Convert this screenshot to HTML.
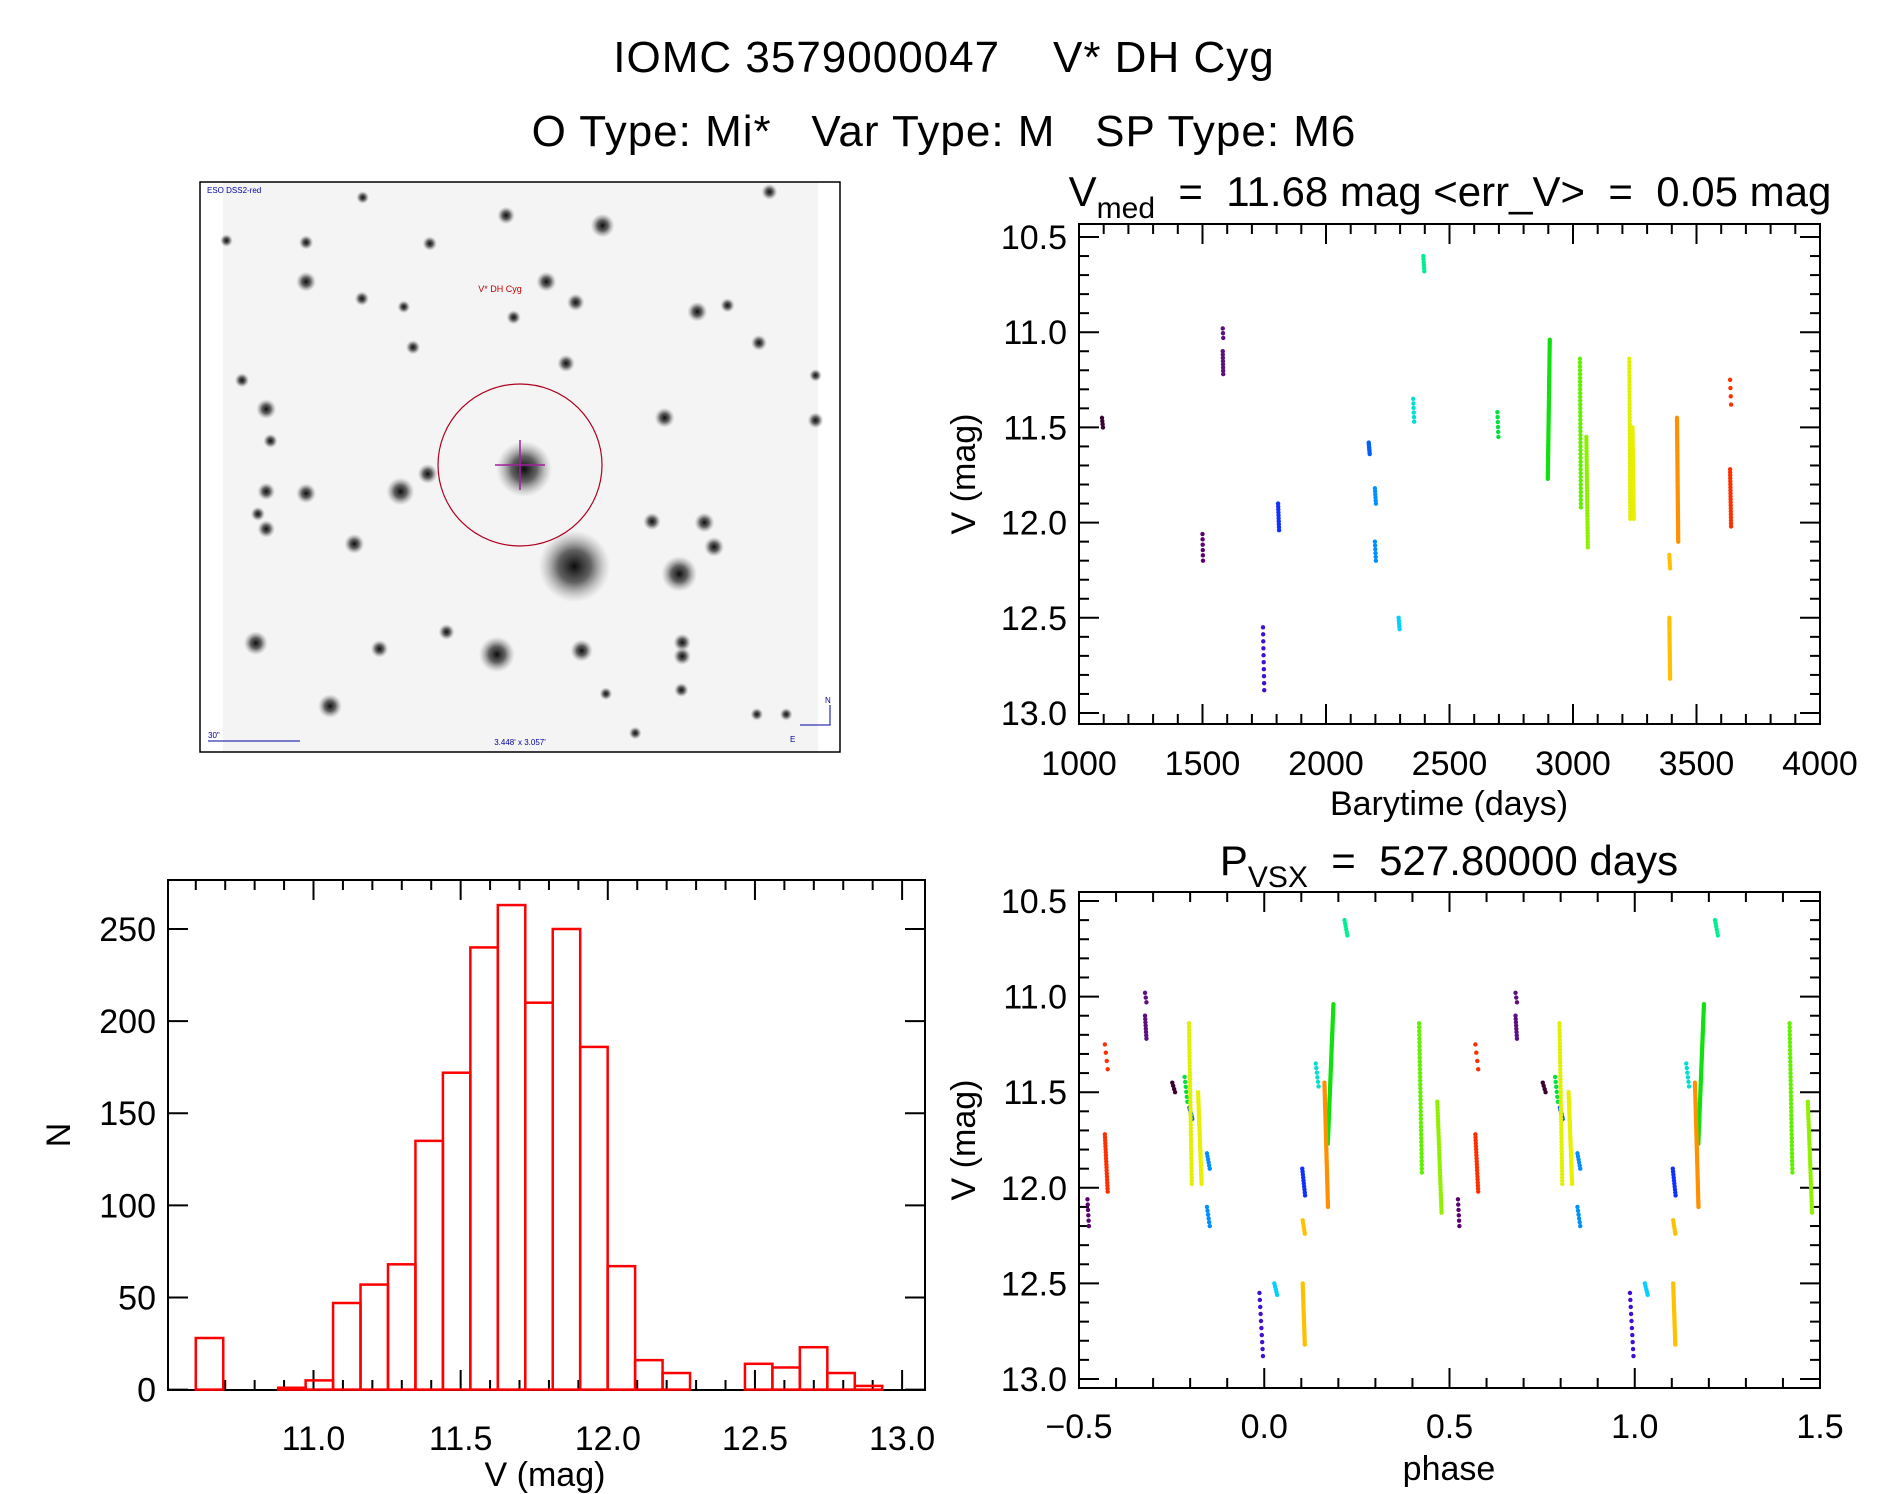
<!DOCTYPE html>
<html><head><meta charset="utf-8"><style>
html,body{margin:0;padding:0;background:#fff;}
svg{display:block;font-family:"Liberation Sans",sans-serif;}
text{white-space:pre;}
</style></head><body>
<svg id="c" width="1889" height="1494" viewBox="0 0 1889 1494" xmlns="http://www.w3.org/2000/svg">
<defs>
<radialGradient id="sg"><stop offset="0" stop-color="#000" stop-opacity="0.95"/><stop offset="0.45" stop-color="#222" stop-opacity="0.7"/><stop offset="1" stop-color="#888" stop-opacity="0"/></radialGradient>
</defs>
<text x="944" y="72" font-size="44" text-anchor="middle" letter-spacing="1" xml:space="preserve">IOMC 3579000047    V* DH Cyg</text>
<text x="944" y="146" font-size="44" text-anchor="middle" letter-spacing="1" xml:space="preserve">O Type: Mi*   Var Type: M   SP Type: M6</text>
<g id="img"></g>
<g id="lc"></g>
<g id="ph"></g>
<g id="hist"></g>
</svg>
<script>
// ---- data ----
const histBinStart = 10.60;
const histBinWidth = 0.0933;
const histCounts = [28,0,0,1,5,47,57,68,135,172,240,263,210,250,186,67,16,9,0,0,14,12,23,9,2];
const histXTicks = ["11.0","11.5","12.0","12.5","13.0"];
const histYTicks = ["0","50","100","150","200","250"];

const segT0 =   [1093,1500,1582,1582,1745,1806,2173,2198,2198,2294,2353,2394,2694,2898,3028,3054,3228,3241,3390,3390,3421,3636,3636];
const segT1 =   [1097,1502,1584,1584,1750,1810,2177,2202,2202,2298,2357,2398,2698,2906,3032,3060,3232,3246,3393,3393,3426,3640,3640];
const segM0 =   [11.45,12.06,10.98,11.10,12.55,11.90,11.58,11.82,12.10,12.50,11.35,10.60,11.42,11.77,11.14,11.55,11.14,11.50,12.17,12.50,11.45,11.25,11.72];
const segM1 =   [11.50,12.20,11.03,11.22,12.88,12.04,11.64,11.90,12.20,12.56,11.47,10.68,11.55,11.04,11.92,12.13,11.98,11.98,12.24,12.82,12.10,11.38,12.02];
const segN =    [4,6,3,8,10,10,8,6,6,5,6,6,6,70,40,40,50,40,6,30,60,4,20];
const segColor = ["#3a0030","#5a0070","#5a1080","#5a1080","#4010d0","#1030ff","#0060ff","#0090ff","#0090ff","#00d0ff","#00e0d0","#00f090","#00e040","#10e010","#60f000","#90f000","#e0f000","#e8f000","#ffc000","#ffc000","#ff9000","#ff3000","#ff3000"];
const period = 527.8;
const phaseRef = 1100, phaseOff = 0.765;
const lcXTicks = ["1000","1500","2000","2500","3000","3500","4000"];
const magTicks = ["10.5","11.0","11.5","12.0","12.5","13.0"];
const phTicks = ["\u22120.5","0.0","0.5","1.0","1.5"];

// sky image stars (zoom-space coords), radius
const starX = [905,785,1155,720,170,265,265,490,972,742,838,908,1198,1120,1215,1238,322,145,922,555,380,440,1162,1162,170,170,885,520,760,1345,1270,1370,560,498,398,1090,1480,112,180,400,1050,600,1480,1340,150,1160,980,265,75,1410];
const starY = [1045,785,1065,1280,625,850,285,845,135,108,285,340,365,648,928,993,1418,1250,1270,798,985,1265,1248,1285,845,945,503,460,380,448,348,45,183,352,330,925,655,548,710,60,1490,1220,535,1440,905,1375,1385,180,175,1440];
const starR = [90,70,45,45,25,25,25,35,30,22,25,22,25,25,25,25,30,30,28,25,25,22,22,22,22,22,22,18,18,20,18,20,18,16,18,22,20,18,18,16,16,20,16,16,18,18,16,18,16,16];

// ---- helpers ----
const NS="http://www.w3.org/2000/svg";
function mk(tag,attrs,parent){const e=document.createElementNS(NS,tag);for(const k in attrs)e.setAttribute(k,attrs[k]);parent.appendChild(e);return e;}
function line(p,x1,y1,x2,y2,w){return mk('line',{x1,y1,x2,y2,stroke:'#000','stroke-width':w||2},p);}

// ---- sky image ----
(function(){
 const g=document.getElementById('img');
 const sx=z=>z/2.385+195, sy=z=>z/2.67+175;
 const bg=mk('rect',{x:223,y:182,width:595,height:570,fill:'#f4f4f4'},g);
 
 
 const fr=mk('rect',{x:200,y:182,width:640,height:570,fill:'none',stroke:'#000','stroke-width':1.5},g);
 
 
 for(let i=0;i<starX.length;i++){
  const s=mk('circle',{cx:sx(starX[i]),cy:sy(starY[i]),r:starR[i]/2.5,fill:'url(#sg)'},g);
  
  
 }
 const ci=mk('ellipse',{cx:520,cy:465,rx:82,ry:81,fill:'none',stroke:'#b00020','stroke-width':1.2},g);
 
 
 mk('line',{x1:495,y1:465,x2:545,y2:465,stroke:'#a020a0','stroke-width':1.5},g);
 mk('line',{x1:520,y1:440,x2:520,y2:490,stroke:'#a020a0','stroke-width':1.5},g);
 const t1=mk('text',{x:500,y:292,'font-size':9,fill:'#c00000','text-anchor':'middle'},g);t1.textContent='V* DH Cyg';
 
 
 const t2=mk('text',{x:207,y:193,'font-size':8,fill:'#0000a0'},g);t2.textContent='ESO DSS2-red';
 
 
 const t3=mk('text',{x:520,y:745,'font-size':8,fill:'#0000a0','text-anchor':'middle'},g);t3.textContent="3.448' x 3.057'";
 
 
 const t4=mk('text',{x:208,y:738,'font-size':8,fill:'#0000a0'},g);t4.textContent='30"';
 
 
 mk('line',{x1:208,y1:741,x2:300,y2:741,stroke:'#0000a0','stroke-width':1},g);
 mk('polyline',{points:'800,725 830,725 830,705',fill:'none',stroke:'#0000a0','stroke-width':1},g);
 const n=mk('text',{x:825,y:703,'font-size':8,fill:'#0000a0'},g);n.textContent='N';
 const e=mk('text',{x:790,y:742,'font-size':8,fill:'#0000a0'},g);e.textContent='E';
})();

// ---- generic axes ----
function frame(g,L,R,T,B){const r=mk('rect',{x:L,y:T,width:R-L,height:B-T,fill:'none',stroke:'#000','stroke-width':2},g);}
function magAxis(g,L,R,yOf){
 for(let m=10.5;m<=13.0001;m+=0.1){const y=yOf(m);const major=Math.abs(m*2-Math.round(m*2))<1e-6;const len=major?20:10;line(g,L,y,L+len,y);line(g,R,y,R-len,y);}
 magTicks.forEach(s=>{const v=parseFloat(s);const t=mk('text',{x:L-12,y:yOf(v)+12,'font-size':34,'text-anchor':'end'},g);t.textContent=s;});
}

// ---- light curve ----
(function(){
 const g=document.getElementById('lc');
 const L=1079,R=1820,T=224,B=724;
 const xOf=t=>L+(t-1000)/3000*(R-L);
 const yOf=m=>237+(m-10.5)/2.5*(713-237);
 frame(g,L,R,T,B);
 for(let t=1000;t<=4000;t+=100){const x=xOf(t);const len=(t%500===0)?20:10;line(g,x,B,x,B-len);line(g,x,T,x,T+len);}
 lcXTicks.forEach(s=>{const t=mk('text',{x:xOf(+s),y:775,'font-size':34,'text-anchor':'middle'},g);t.textContent=s;});
 magAxis(g,L,R,yOf);
 for(let i=0;i<segT0.length;i++){
  for(let k=0;k<segN[i];k++){const f=segN[i]>1?k/(segN[i]-1):0;const t=segT0[i]+(segT1[i]-segT0[i])*f;const m=segM0[i]+(segM1[i]-segM0[i])*f;
   const c=mk('circle',{cx:xOf(t),cy:yOf(m),r:2.2,fill:segColor[i]},g);
   
   }
 }
 const tt=mk('text',{x:1450,y:206,'font-size':42,'text-anchor':'middle'},g);
 tt.innerHTML='V<tspan font-size="30" dy="12">med</tspan><tspan dy="-12">  =  11.68 mag &lt;err_V&gt;  =  0.05 mag</tspan>';
 
 
 const xl=mk('text',{x:1449,y:815,'font-size':34,'text-anchor':'middle'},g);xl.textContent='Barytime (days)';
 
 
 const yl=mk('text',{x:0,y:0,'font-size':34,'text-anchor':'middle',transform:'translate(975,474) rotate(-90)'},g);yl.textContent='V (mag)';
 
 
})();

// ---- phase plot ----
(function(){
 const g=document.getElementById('ph');
 const L=1079,R=1820,T=892,B=1388;
 const xOf=p=>L+(p+0.5)/2*(R-L);
 const yOf=m=>901+(m-10.5)/2.5*(1379-901);
 frame(g,L,R,T,B);
 for(let i=0;i<=20;i++){const p=-0.5+i*0.1;const x=xOf(p);const len=(i%5===0)?20:10;line(g,x,B,x,B-len);line(g,x,T,x,T+len);}
 phTicks.forEach((s,i)=>{const t=mk('text',{x:xOf(-0.5+i*0.5),y:1438,'font-size':34,'text-anchor':'middle'},g);t.textContent=s;});
 magAxis(g,L,R,yOf);
 for(let i=0;i<segT0.length;i++){
  for(let k=0;k<segN[i];k++){const f=segN[i]>1?k/(segN[i]-1):0;const t=segT0[i]+(segT1[i]-segT0[i])*f;const m=segM0[i]+(segM1[i]-segM0[i])*f;
   let ph=phaseOff+(t-phaseRef)/period;ph=ph-Math.floor(ph);
   [ph-1,ph,ph+1].forEach(p=>{if(p<-0.5||p>1.5)return;
    const c=mk('circle',{cx:xOf(p),cy:yOf(m),r:2.2,fill:segColor[i]},g);
    
    });
  }
 }
 const tt=mk('text',{x:1449,y:875,'font-size':42,'text-anchor':'middle'},g);
 tt.innerHTML='P<tspan font-size="30" dy="12">VSX</tspan><tspan dy="-12">  =  527.80000 days</tspan>';
 
 
 const xl=mk('text',{x:1449,y:1480,'font-size':34,'text-anchor':'middle'},g);xl.textContent='phase';
 
 
 const yl=mk('text',{x:0,y:0,'font-size':34,'text-anchor':'middle',transform:'translate(975,1140) rotate(-90)'},g);yl.textContent='V (mag)';
 
 
})();

// ---- histogram ----
(function(){
 const g=document.getElementById('hist');
 const L=168,R=925,T=880,B=1390;
 const xOf=v=>313.5+(v-11.0)*294.3;
 const yOf=n=>1389.6-n*(460.6/250);
 frame(g,L,R,T,B);
 for(let i=0;i<=24;i++){const v=10.6+i*0.1;const x=xOf(v);const len=(Math.abs(v*2-Math.round(v*2))<1e-6)?20:10;line(g,x,B,x,B-len);line(g,x,T,x,T+len);}
 histYTicks.forEach(s=>{const y=yOf(+s);line(g,L,y,L+20,y);line(g,R,y,R-20,y);
  const t=mk('text',{x:L-12,y:y+12,'font-size':34,'text-anchor':'end'},g);t.textContent=s;});
 histXTicks.forEach(s=>{const t=mk('text',{x:xOf(+s),y:1450,'font-size':34,'text-anchor':'middle'},g);t.textContent=s;});
 histCounts.forEach((n,i)=>{const x0=xOf(histBinStart+i*histBinWidth),x1=xOf(histBinStart+(i+1)*histBinWidth);
  const r=mk('rect',{x:x0,y:yOf(n),width:x1-x0,height:yOf(0)-yOf(n),fill:'none',stroke:'#ff0000','stroke-width':2.5},g);
  
  });
 const xl=mk('text',{x:545,y:1486,'font-size':34,'text-anchor':'middle'},g);xl.textContent='V (mag)';
 
 
 const yl=mk('text',{x:0,y:0,'font-size':34,'text-anchor':'middle',transform:'translate(70,1135) rotate(-90)'},g);yl.textContent='N';
 
 
})();
</script>
</body></html>
